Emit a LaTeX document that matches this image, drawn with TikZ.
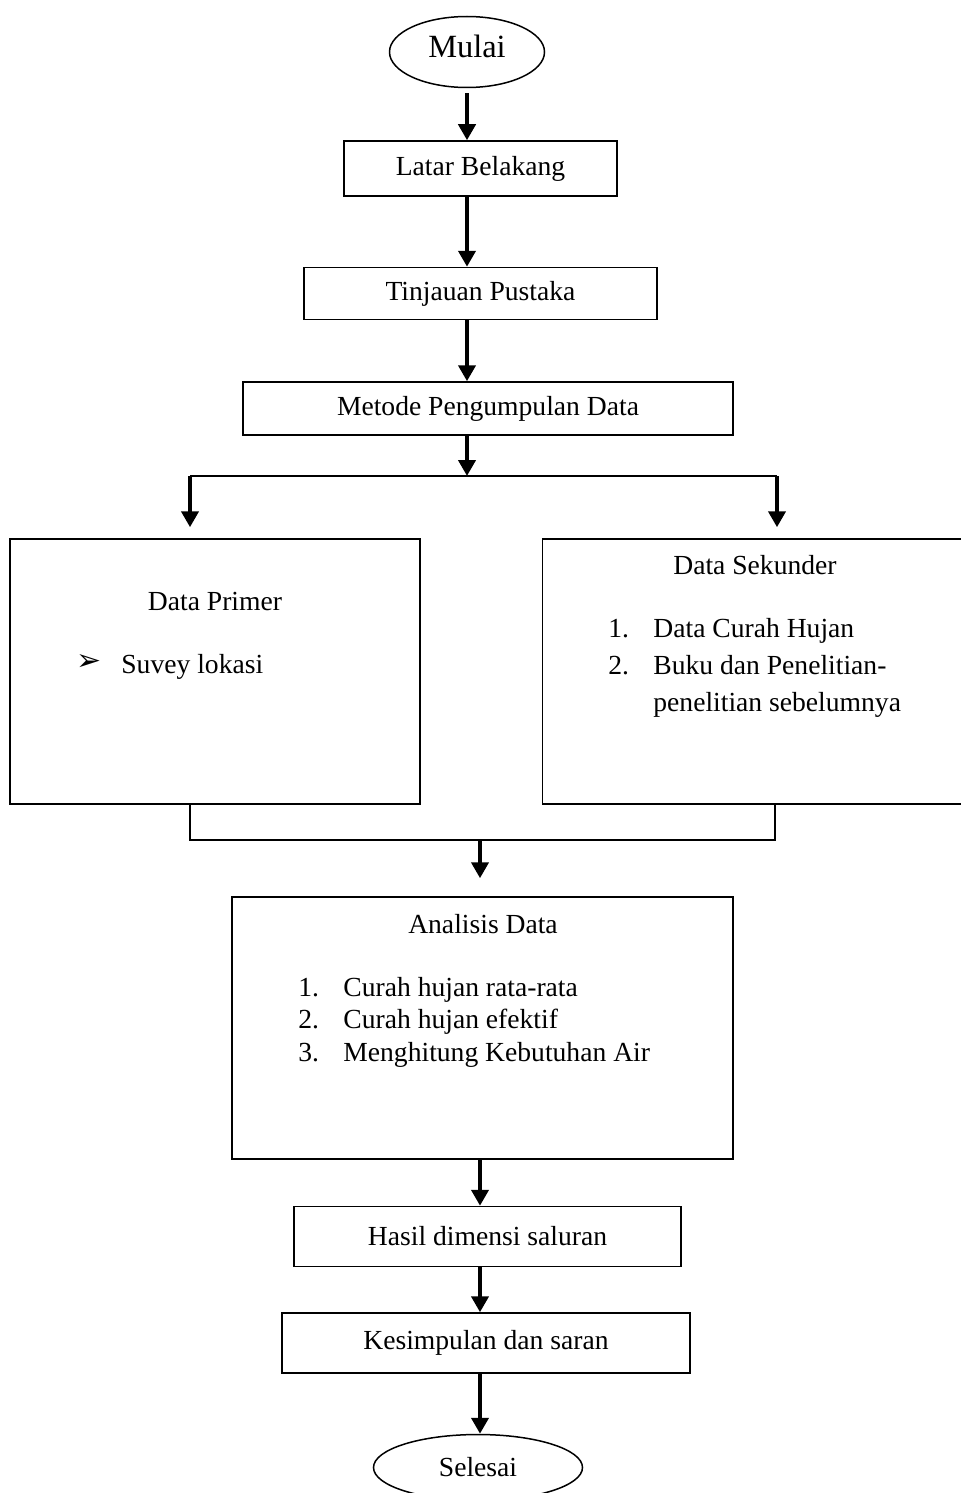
\documentclass[tikz,border=0pt]{standalone}
\usepackage{fontspec}
\setmainfont{Liberation Serif}
\newfontfamily\symfont{DejaVu Sans}
\usetikzlibrary{positioning,shapes.geometric,arrows.meta}

\begin{document}
\begin{tikzpicture}[%
    >={Triangle[length=8pt,width=8.5pt]},
    font=\fontsize{13.8}{16.5}\selectfont,
    flow/.style={->, line width=2pt},
    link/.style={line width=0.75pt},
    terminal/.style={%
      ellipse,
      inner sep=0pt,
      line width=0.75pt,
      draw
    },
    procbox/.style={%
      rectangle,
      inner sep=0pt,
      line width=0.75pt,
      draw
    },
    txt/.style={inner sep=0pt}
  ]
  \useasboundingbox (0,0) rectangle (480.5pt,-746.5pt);
  % Nodes:
    \node[terminal, minimum width=77.5pt, minimum height=35.5pt, text depth=6pt, font=\fontsize{16.2}{19}\selectfont] (mulai) at (233.5pt,-26pt) {Mulai};
    \node[procbox, minimum width=136.5pt, minimum height=27.5pt] (latar) [below=26pt of mulai, xshift=6.75pt] {Latar Belakang};
    \node[procbox, minimum width=176.5pt, minimum height=26pt] (tinjauan) [below=35pt of latar] {Tinjauan Pustaka};
    \node[procbox, minimum width=245pt, minimum height=26.5pt] (metode) [below=30.5pt of tinjauan, xshift=3.75pt] {Metode Pengumpulan Data};
    \node[procbox, minimum width=205pt, minimum height=132.5pt] (primer) at (107.5pt,-335.75pt) {};
    \node[procbox, minimum width=214.5pt, minimum height=132.5pt] (sekunder) [right=60.5pt of primer] {};
    \node[procbox, minimum width=250.5pt, minimum height=131pt] (analisis) at (241.25pt,-514pt) {};
    \node[procbox, minimum width=193.5pt, minimum height=30pt] (hasil) [below=23pt of analisis, xshift=2.5pt] {Hasil dimensi saluran};
    \node[procbox, minimum width=204pt, minimum height=30pt] (kesimpulan) [below=22.5pt of hasil, xshift=-0.75pt] {Kesimpulan dan saran};
    \node[terminal, minimum width=104.5pt, minimum height=33pt] (selesai) [below=30pt of kesimpulan, xshift=-4pt] {Selesai};
  % Texts in the big boxes:
    \node[txt, anchor=mid] (primerT) at (107.5pt,-303pt) {Data Primer};
    \node[txt, anchor=mid west] (primerB) at (38pt,-333pt) {\symfont\fontsize{15}{17}\selectfont ➢};
    \node[txt, anchor=mid west] (primer1) at (60.5pt,-334.5pt) {Suvey lokasi};
    \node[txt, anchor=mid] (sekunderT) at (377.5pt,-285pt) {Data Sekunder};
    \node[txt, anchor=mid west] (sekunderN1) at (304pt,-316.5pt) {1.};
    \node[txt, anchor=mid west] (sekunder1) at (326.5pt,-316.5pt) {Data Curah Hujan};
    \node[txt, anchor=mid west] (sekunderN2) at (304pt,-335pt) {2.};
    \node[txt, anchor=mid west] (sekunder2) at (326.5pt,-335pt) {Buku dan Penelitian-};
    \node[txt, anchor=mid west] (sekunder2b) at (326.5pt,-353.5pt) {penelitian sebelumnya};
    \node[txt, anchor=mid] (analisisT) at (241.5pt,-464.5pt) {Analisis Data};
    \node[txt, anchor=mid west] (analisisN1) at (149pt,-496pt) {1.};
    \node[txt, anchor=mid west] (analisis1) at (171.5pt,-496pt) {Curah hujan rata-rata};
    \node[txt, anchor=mid west] (analisisN2) at (149pt,-512pt) {2.};
    \node[txt, anchor=mid west] (analisis2) at (171.5pt,-512pt) {Curah hujan efektif};
    \node[txt, anchor=mid west] (analisisN3) at (149pt,-528.5pt) {3.};
    \node[txt, anchor=mid west] (analisis3) at (171.5pt,-528.5pt) {Menghitung Kebutuhan Air};
  % Branch and merge points:
    \coordinate (splitL) at (95pt,-238pt);
    \coordinate (splitR) at (388.5pt,-238pt);
    \coordinate (mergeL) at (95pt,-420pt);
    \coordinate (mergeR) at (387.5pt,-420pt);
    \coordinate (mergeM) at (240pt,-420pt);
  % Paths:
    \draw[flow, shorten <=2.5pt] (mulai.south) -- (mulai.south |- latar.north);
    \draw[flow] (mulai.south |- latar.south) -- (mulai.south |- tinjauan.north);
    \draw[flow] (mulai.south |- tinjauan.south) -- (mulai.south |- metode.north);
    \draw[flow] (mulai.south |- metode.south) -- (mulai.south |- splitL);
    \draw[link, line width=1.2pt] (splitL) -- (splitR);
    \draw[flow, shorten >=5.5pt] (splitL) -- (splitL |- primer.north);
    \draw[flow, shorten >=5.5pt] (splitR) -- (splitR |- sekunder.north);
    \draw[link] (mergeL |- primer.south) -- (mergeL) -- (mergeR) -- (mergeR |- sekunder.south);
    \draw[flow, shorten >=9pt] (mergeM) -- (mergeM |- analisis.north);
    \draw[flow] (mergeM |- analisis.south) -- (mergeM |- hasil.north);
    \draw[flow] (mergeM |- hasil.south) -- (mergeM |- kesimpulan.north);
    \draw[flow] (mergeM |- kesimpulan.south) -- (mergeM |- selesai.north);
\end{tikzpicture}
\end{document}
